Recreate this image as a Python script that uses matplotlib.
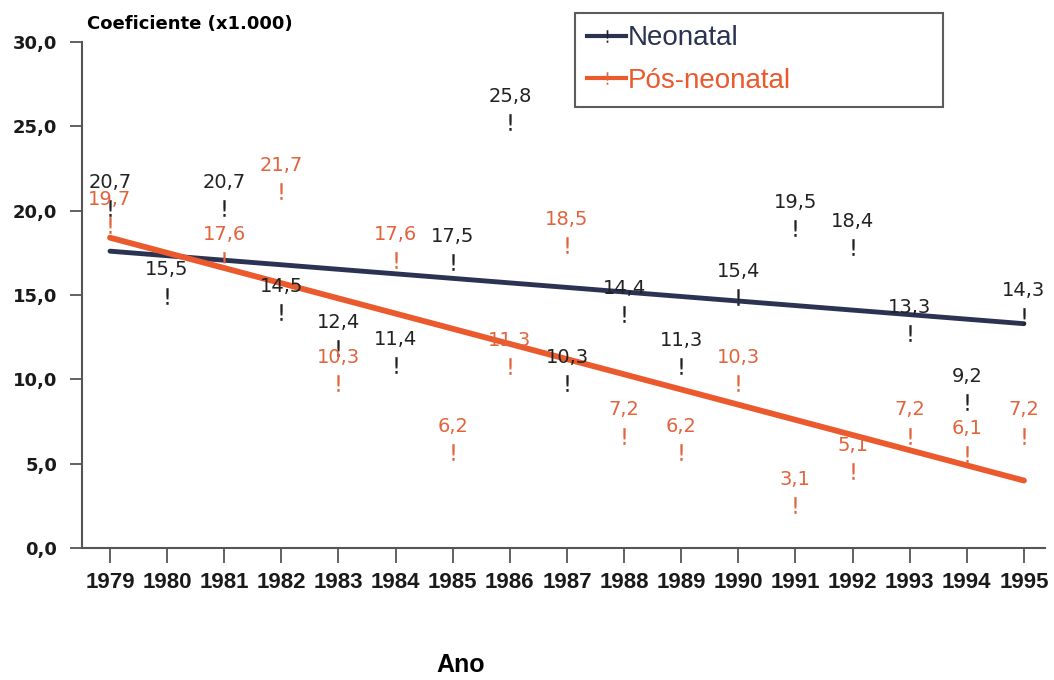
import numpy as np
import matplotlib.pyplot as plt
from matplotlib import transforms
from matplotlib.lines import Line2D

anos = list(range(1979, 1996))
neonatal = [20.7, 15.5, 20.7, 14.5, 12.4, 11.4, 17.5, 25.8, 10.3, 14.4,
            11.3, 15.4, 19.5, 18.4, 13.3, 9.2, 14.3]
pos_neonatal = [19.7, np.nan, 17.6, 21.7, 10.3, 17.6, 6.2, 11.3, 18.5, 7.2,
                6.2, 10.3, 3.1, 5.1, 7.2, 6.1, 7.2]

# linhas de tendencia
anos_tend = [1979, 1995]
neo_tend = [17.6, 13.3]
pos_tend = [18.4, 4.0]

cor_neo = '#2a3352'
cor_pos = '#ea5a2c'
cor_neo_txt = '#222222'
cor_pos_txt = '#e2643c'

fig = plt.figure(figsize=(10.54, 6.8), dpi=100)
ax = fig.add_axes([0.0778, 0.1941, 0.9137, 0.7441])

ax.plot(anos_tend, neo_tend, color=cor_neo, lw=3.5, solid_capstyle='round', zorder=2)
ax.plot(anos_tend, pos_tend, color=cor_pos, lw=4.2, solid_capstyle='round', zorder=2)

# marcadores "!" um pouco abaixo do valor
desl = transforms.offset_copy(ax.transData, fig=fig, y=-9, units='dots')
ax.plot(anos, neonatal, ls='none', marker='$!$', ms=12, mew=0, color=cor_neo_txt,
        transform=desl, zorder=3)
ax.plot(anos, pos_neonatal, ls='none', marker='$!$', ms=12, mew=0, color=cor_pos_txt,
        transform=desl, zorder=3)

for a, v in zip(anos, neonatal):
    ax.annotate(f'{v:.1f}'.replace('.', ','), (a, v), xytext=(0, 12),
                textcoords='offset points', ha='center', va='center',
                fontsize=14, color=cor_neo_txt, zorder=4)
for a, v in zip(anos, pos_neonatal):
    if np.isnan(v):
        continue
    ax.annotate(f'{v:.1f}'.replace('.', ','), (a, v), xytext=(0, 12),
                textcoords='offset points', ha='center', va='center',
                fontsize=14, color=cor_pos_txt, zorder=4)

ax.set_xlim(1978.51, 1995.37)
ax.set_ylim(0, 30)
yt = np.arange(0, 31, 5)
ax.set_yticks(yt)
ax.set_yticklabels([f'{t:.1f}'.replace('.', ',') for t in yt],
                   fontsize=13, fontweight='bold')
ax.set_xticks(anos)
ax.set_xticklabels([str(a) for a in anos], fontsize=16, family='Liberation Sans',
                   fontweight='bold')
ax.tick_params(axis='y', direction='out', length=9, width=1.3, pad=9, colors='#555555',
               labelcolor='#1a1a1a')
ax.tick_params(axis='x', direction='out', length=11, width=1.3, pad=6, colors='#555555',
               labelcolor='#1a1a1a')

for s in ['top', 'right']:
    ax.spines[s].set_visible(False)
for s in ['left', 'bottom']:
    ax.spines[s].set_color('#555555')
    ax.spines[s].set_linewidth(1.5)

fig.text(0.083, 0.965, 'Coeficiente (x1.000)', fontsize=13, fontweight='bold',
         ha='left', va='center')
fig.text(0.437, 0.022, 'Ano', fontsize=18, fontweight='bold', family='Liberation Sans',
         ha='center', va='center')

handles = [
    Line2D([], [], color=cor_neo, lw=3, marker='$!$', ms=9, mew=0,
           markerfacecolor=cor_neo_txt),
    Line2D([], [], color=cor_pos, lw=3, marker='$!$', ms=9, mew=0,
           markerfacecolor=cor_pos_txt),
]
leg = fig.legend(handles, ['Neonatal', 'Pós-neonatal'], loc='upper left',
                 bbox_to_anchor=(0.5455, 0.981, 0.349, 0.0), mode='expand',
                 frameon=True, fancybox=False,
                 handlelength=1.4, handletextpad=0.05, borderpad=0.45,
                 borderaxespad=0, labelspacing=0.6,
                 prop={'family': 'Liberation Sans', 'size': 20})
leg.get_frame().set_edgecolor('#333333')
leg.get_frame().set_linewidth(1.5)
leg.texts[0].set_color(cor_neo)
leg.texts[1].set_color(cor_pos)

fig.savefig('out.png', dpi=100)
